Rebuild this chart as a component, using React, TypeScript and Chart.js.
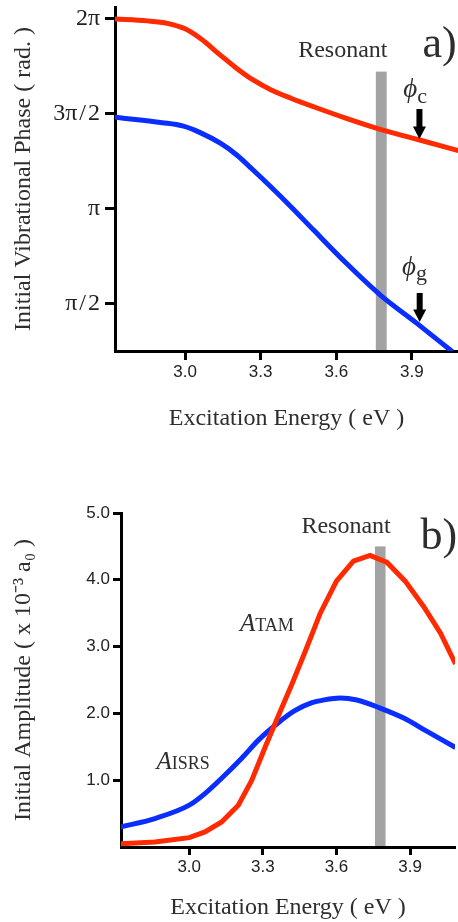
import React, { useEffect, useRef } from 'react';
import { Chart, registerables } from 'chart.js';

Chart.register(...registerables);

// ---------------- data ----------------
const energyTicks = [3.0, 3.3, 3.6, 3.9];
const energyRange = [2.722, 4.083];

// phase in units of π
const phaseTicks = [0.5, 1.0, 1.5, 2.0];
const phaseTickLabels = ['π\u200a/\u200a2', 'π', '3π\u200a/\u200a2', '2π'];
const phaseRange = [0.2526, 2.063];

const phiCEnergy = [2.72, 2.85, 2.93, 3.0, 3.06, 3.14, 3.2, 3.27, 3.34, 3.42, 3.51, 3.64, 3.775, 3.92, 4.085];
const phiCPhase = [2.0, 1.99, 1.977, 1.948, 1.898, 1.81, 1.745, 1.679, 1.628, 1.583, 1.538, 1.477, 1.419, 1.367, 1.307];

const phiGEnergy = [2.72, 2.91, 2.99, 3.06, 3.14, 3.205, 3.27, 3.34, 3.42, 3.51, 3.64, 3.775, 3.92, 4.06];
const phiGPhase = [1.483, 1.454, 1.437, 1.402, 1.346, 1.284, 1.205, 1.117, 1.012, 0.889, 0.714, 0.547, 0.398, 0.25];

const amplitudeTicks = [1.0, 2.0, 3.0, 4.0, 5.0];
const amplitudeRange = [0, 5.0];

const tamEnergy = [2.72, 2.86, 3.0, 3.064, 3.132, 3.2, 3.255, 3.31, 3.365, 3.42, 3.475, 3.534, 3.6, 3.669, 3.737, 3.806, 3.88, 3.955, 4.024, 4.085];
const tamAmp = [0.05, 0.075, 0.14, 0.225, 0.375, 0.626, 1.0, 1.5, 1.98, 2.45, 2.95, 3.5, 3.98, 4.28, 4.365, 4.26, 3.98, 3.6, 3.2, 2.74];

const isrsEnergy = [2.72, 2.86, 3.0, 3.064, 3.132, 3.214, 3.282, 3.363, 3.43, 3.5, 3.547, 3.615, 3.683, 3.778, 3.874, 3.969, 4.085];
const isrsAmp = [0.3, 0.426, 0.626, 0.8, 1.03, 1.33, 1.6, 1.86, 2.04, 2.16, 2.2, 2.23, 2.2, 2.08, 1.93, 1.73, 1.49];

const resonantEnergy = [3.757, 3.8];
const resonantPhaseTop = 1.723;
const resonantAmpTop = 4.5;

// ---------------- styling ----------------
const RED = '#ff2a00';
const BLUE = '#0a2eff';
const SERIF = "'Liberation Serif', 'Times New Roman', serif";
const SANS = "'Liberation Sans', Arial, sans-serif";
const TEXT = '#2e2e2e';

type Part = { text: string; font: string; dy?: number };
type Label = { parts: Part[]; e: number; v: number; align?: 'left' | 'center' };
type Arrow = { e: number; from: number; to: number };

function overlayPlugin(band: { lo: number; hi: number; top: number }, labels: Label[], arrows: Arrow[]) {
  return {
    id: 'overlay',
    beforeDraw(chart: any) {
      const { ctx, chartArea, scales } = chart;
      const x = scales.x, y = scales.y;
      const x1 = x.getPixelForValue(band.lo);
      const x2 = x.getPixelForValue(band.hi);
      const yt = y.getPixelForValue(band.top);
      ctx.save();
      ctx.fillStyle = '#a3a3a3';
      ctx.fillRect(x1, yt, x2 - x1, chartArea.bottom - yt);
      ctx.restore();
    },
    afterDraw(chart: any) {
      const { ctx, scales } = chart;
      const x = scales.x, y = scales.y;
      ctx.save();
      ctx.fillStyle = TEXT;
      ctx.textBaseline = 'alphabetic';
      ctx.textAlign = 'left';
      for (const lb of labels) {
        let px = x.getPixelForValue(lb.e);
        const py = y.getPixelForValue(lb.v);
        if (lb.align === 'center') {
          let w = 0;
          for (const p of lb.parts) { ctx.font = p.font; w += ctx.measureText(p.text).width; }
          px -= w / 2;
        }
        for (const p of lb.parts) {
          ctx.font = p.font;
          ctx.fillText(p.text, px, py + (p.dy || 0));
          px += ctx.measureText(p.text).width;
        }
      }
      ctx.fillStyle = '#000';
      for (const a of arrows) {
        const ax = x.getPixelForValue(a.e);
        const y1 = y.getPixelForValue(a.from);
        const y2 = y.getPixelForValue(a.to);
        const head = 12.5;
        ctx.fillRect(ax - 3, y1, 6, y2 - y1 - head + 1);
        ctx.beginPath();
        ctx.moveTo(ax - 6.5, y2 - head);
        ctx.lineTo(ax + 6.5, y2 - head);
        ctx.lineTo(ax, y2);
        ctx.closePath();
        ctx.fill();
      }
      ctx.restore();
    },
  };
}

function xAxis(tickLength: number, tickPad: number, height: number, titlePadBottom: number) {
  return {
    type: 'linear' as const,
    min: energyRange[0],
    max: energyRange[1],
    afterBuildTicks: (s: any) => { s.ticks = energyTicks.map((v) => ({ value: v })); },
    afterFit: (s: any) => { s.height = height; s.paddingLeft = 0; s.paddingRight = 0; },
    grid: { drawOnChartArea: false, drawTicks: true, tickLength, tickWidth: 3, tickColor: '#000' },
    border: { display: true, color: '#000', width: 3 },
    ticks: {
      padding: tickPad,
      color: '#222',
      font: { family: SANS, size: 17 },
      maxRotation: 0,
      callback: (v: any) => Number(v).toFixed(1),
    },
    title: {
      display: true,
      text: 'Excitation Energy ( eV )',
      color: TEXT,
      font: { family: SERIF, size: 24 },
      padding: { top: 0, bottom: titlePadBottom },
    },
  };
}

function makeTop(canvas: HTMLCanvasElement) {
  const labels: Label[] = [
    { parts: [{ text: 'Resonant', font: `24px ${SERIF}` }], e: 3.626, v: 1.8, align: 'center' },
    { parts: [{ text: 'a)', font: `44px ${SERIF}` }], e: 3.942, v: 1.8 },
    { parts: [{ text: 'ϕ', font: `italic 27px ${SERIF}` }, { text: 'c', font: `22px ${SERIF}`, dy: 5.5 }], e: 3.866, v: 1.587 },
    { parts: [{ text: 'ϕ', font: `italic 27px ${SERIF}` }, { text: 'g', font: `22px ${SERIF}`, dy: 5 }], e: 3.861, v: 0.655 },
  ];
  const arrows: Arrow[] = [
    { e: 3.93, from: 1.526, to: 1.368 },
    { e: 3.931, from: 0.558, to: 0.405 },
  ];
  return new Chart(canvas, {
    type: 'line',
    data: {
      datasets: [
        {
          data: phiCEnergy.map((e, i) => ({ x: e, y: phiCPhase[i] })),
          borderColor: RED, borderWidth: 5, pointRadius: 0, cubicInterpolationMode: 'monotone', fill: false,
        },
        {
          data: phiGEnergy.map((e, i) => ({ x: e, y: phiGPhase[i] })),
          borderColor: BLUE, borderWidth: 5, pointRadius: 0, cubicInterpolationMode: 'monotone', fill: false,
        },
      ],
    },
    options: {
      animation: false,
      responsive: false,
      events: [],
      layout: { padding: { top: 7, right: 0, left: 0, bottom: 0 } },
      plugins: { legend: { display: false }, tooltip: { enabled: false } },
      scales: {
        x: xAxis(9, 2, 94, 12),
        y: {
          type: 'linear',
          min: phaseRange[0],
          max: phaseRange[1],
          afterBuildTicks: (s: any) => { s.ticks = phaseTicks.map((v) => ({ value: v })); },
          afterFit: (s: any) => { s.width = 115; s.paddingTop = 0; s.paddingBottom = 0; },
          grid: { drawOnChartArea: false, drawTicks: true, tickLength: 10, tickWidth: 3, tickColor: '#000' },
          border: { display: true, color: '#000', width: 3 },
          ticks: {
            padding: 5,
            color: '#222',
            font: { family: SERIF, size: 24 },
            callback: (_v: any, i: number) => phaseTickLabels[i],
          },
          title: {
            display: true,
            text: 'Initial Vibrational Phase ( rad. )',
            color: TEXT,
            font: { family: SERIF, size: 24 },
            padding: { top: 9, bottom: 0 },
          },
        },
      },
    },
    plugins: [overlayPlugin({ lo: resonantEnergy[0], hi: resonantEnergy[1], top: resonantPhaseTop }, labels, arrows)],
  } as any);
}

function makeBottom(canvas: HTMLCanvasElement) {
  const labels: Label[] = [
    { parts: [{ text: 'Resonant', font: `24px ${SERIF}` }], e: 3.639, v: 4.706, align: 'center' },
    { parts: [{ text: 'b)', font: `44px ${SERIF}` }], e: 3.942, v: 4.455 },
    { parts: [{ text: 'A', font: `italic 25px ${SERIF}` }, { text: 'TAM', font: `18px ${SERIF}` }], e: 3.207, v: 3.228 },
    { parts: [{ text: 'A', font: `italic 25px ${SERIF}` }, { text: 'ISRS', font: `18px ${SERIF}` }], e: 2.867, v: 1.167 },
  ];
  return new Chart(canvas, {
    type: 'line',
    data: {
      datasets: [
        {
          data: tamEnergy.map((e, i) => ({ x: e, y: tamAmp[i] })),
          borderColor: RED, borderWidth: 5, pointRadius: 0, tension: 0, fill: false,
        },
        {
          data: isrsEnergy.map((e, i) => ({ x: e, y: isrsAmp[i] })),
          borderColor: BLUE, borderWidth: 5, pointRadius: 0, cubicInterpolationMode: 'monotone', fill: false,
        },
      ],
    },
    options: {
      animation: false,
      responsive: false,
      events: [],
      layout: { padding: { top: 68, right: 3, left: 0, bottom: 0 } },
      plugins: { legend: { display: false }, tooltip: { enabled: false } },
      scales: {
        x: xAxis(8, 2, 75, 0),
        y: {
          type: 'linear',
          min: amplitudeRange[0],
          max: amplitudeRange[1],
          afterBuildTicks: (s: any) => { s.ticks = amplitudeTicks.map((v) => ({ value: v })); },
          afterFit: (s: any) => { s.width = 121; s.paddingTop = 0; s.paddingBottom = 0; },
          grid: { drawOnChartArea: false, drawTicks: true, tickLength: 8, tickWidth: 3, tickColor: '#000' },
          border: { display: true, color: '#000', width: 3 },
          ticks: {
            padding: 3,
            color: '#222',
            font: { family: SANS, size: 17 },
            callback: (v: any) => Number(v).toFixed(1),
          },
          title: {
            display: true,
            text: 'Initial Amplitude ( x 10⁻³ a₀ )',
            color: TEXT,
            font: { family: SERIF, size: 24 },
            padding: { top: 9, bottom: 0 },
          },
        },
      },
    },
    plugins: [overlayPlugin({ lo: resonantEnergy[0], hi: resonantEnergy[1], top: resonantAmpTop }, labels, [])],
  } as any);
}

export default function App() {
  const topRef = useRef<HTMLCanvasElement>(null);
  const botRef = useRef<HTMLCanvasElement>(null);
  useEffect(() => {
    const a = makeTop(topRef.current!);
    const b = makeBottom(botRef.current!);
    return () => { a.destroy(); b.destroy(); };
  }, []);
  return (
    <div style={{ position: 'absolute', left: 0, top: 0, width: 458, height: 922, background: '#fff', overflow: 'hidden' }}>
      <canvas ref={topRef} width={458} height={445} style={{ position: 'absolute', left: 0, top: 0, display: 'block' }} />
      <canvas ref={botRef} width={458} height={477} style={{ position: 'absolute', left: 0, top: 445, display: 'block' }} />
    </div>
  );
}
